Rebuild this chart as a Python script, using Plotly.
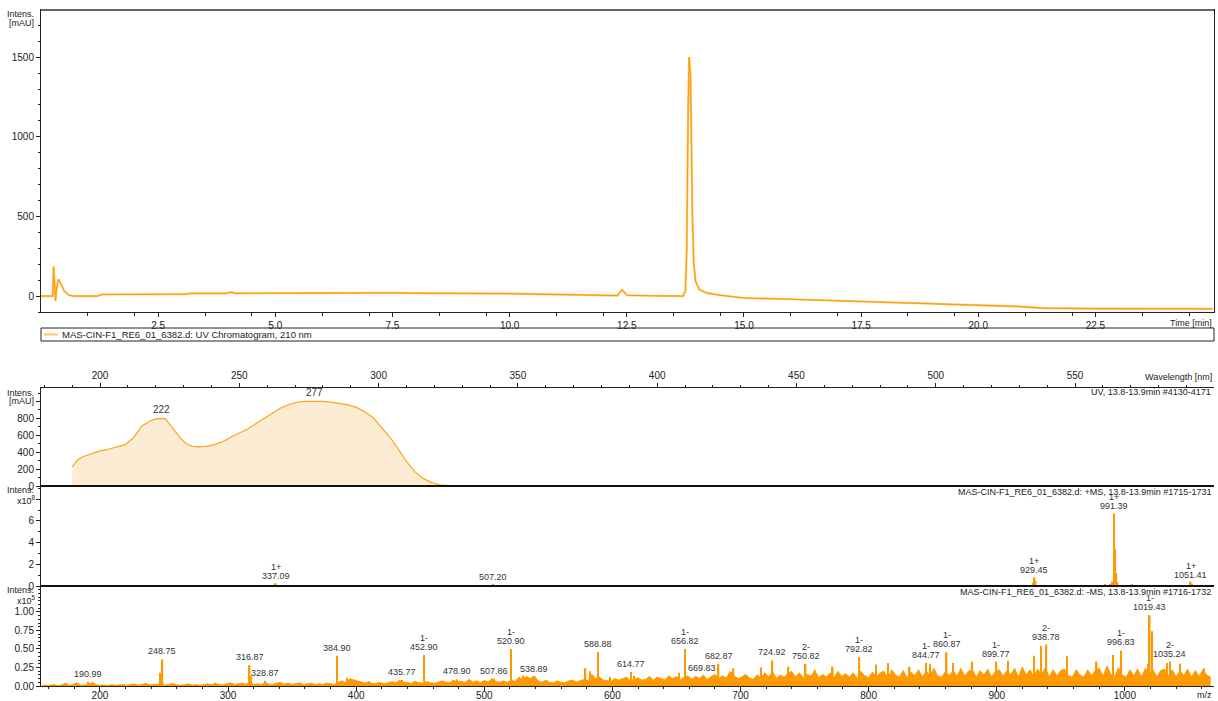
import numpy as np
import plotly.graph_objects as go

# UV chromatogram, 210 nm  (time in min, intensity in mAU)
uv_time = [0.0, 0.25, 0.27, 0.29, 0.31, 0.33, 0.37, 0.42, 0.5, 0.6, 0.7, 1.2, 1.3, 3.1, 3.2,
           3.95, 4.05, 4.15, 5.0, 5.2, 5.3, 7.5, 8.0, 10.0, 11.0, 12.0, 12.3, 12.4, 12.5,
           13.0, 13.7, 13.75, 13.78, 13.81, 13.83, 13.86, 13.88, 13.9, 13.93, 13.97, 14.05,
           14.2, 14.5, 15.0, 16.0, 17.5, 19.0, 20.0, 20.8, 21.4, 22.5, 25.0]
uv_mau = [0, 0, 185, 60, -30, 40, 105, 80, 30, 5, 0, 0, 10, 12, 17,
          17, 25, 17, 19, 22, 19, 20, 18, 15, 8, 3, 3, 40, 5,
          2, 0, 30, 300, 1200, 1500, 1380, 900, 500, 200, 90, 40,
          20, 5, -12, -20, -33, -45, -55, -65, -76, -79, -80]

# UV spectrum at 13.8-13.9 min
spec_nm = [190, 192, 194, 197, 200, 203, 206, 209, 212, 215, 218, 220, 222, 223.5, 225, 227,
           229, 231, 233, 235, 238, 241, 244, 247, 250, 253, 256, 259, 262, 265, 268, 271,
           274, 277, 280, 283, 286, 289, 292, 295, 298, 301, 304, 307, 310, 313, 316, 319,
           322, 325, 328, 600]
spec_mau = [225, 310, 350, 380, 415, 435, 460, 490, 570, 710, 770, 795, 800, 795, 730, 640,
            560, 500, 470, 462, 470, 490, 525, 580, 625, 675, 740, 800, 860, 925, 968, 992,
            1003, 1005, 1002, 993, 980, 960, 930, 880, 810, 700, 580, 440, 290, 170, 90, 40,
            15, 5, 0, 0]
spec_peak_nm = [222, 277]
spec_peak_mau = [800, 1005]

# +MS spectrum (intensity x1e8)
pos_mz = [337.09, 507.20, 928.45, 929.45, 930.45, 984.6, 988.4, 990.4, 991.39, 992.39,
          993.39, 994.4, 1005.7, 1051.41, 1052.41]
pos_int = [0.25, 0.2, 0.3, 0.8, 0.45, 0.15, 0.1, 0.4, 6.7, 3.4, 1.2, 0.35, 0.12, 0.4, 0.2]
pos_lab_mz = [337.09, 507.20, 929.45, 991.39, 1051.41]
pos_lab_int = [0.25, 0.2, 0.8, 6.7, 0.4]
pos_lab_z = ['1+', '', '1+', '1+', '1+']

# -MS spectrum (intensity x1e5): background read every 3 m/z from 155
neg_noise_start = 155
neg_noise_step = 3
neg_noise = [
    0.01, 0.005, 0.01, 0.02, 0.008, 0.012, 0.04, 0.01, 0.02, 0.045, 0.01, 0.015, 0.02, 0.05, 0.02,
    0.01, 0.015, 0.008, 0.02, 0.01, 0.012, 0.02, 0.01, 0.015, 0.03, 0.01, 0.02, 0.035, 0.015, 0.02,
    0.02, 0.03, 0.01, 0.02, 0.035, 0.015, 0.01, 0.02, 0.03, 0.012, 0.02, 0.01, 0.025, 0.03, 0.015,
    0.04, 0.02, 0.015, 0.03, 0.045, 0.02, 0.03, 0.04, 0.025, 0.045, 0.02, 0.03, 0.02, 0.05, 0.025,
    0.02, 0.04, 0.05, 0.025, 0.04, 0.02, 0.03, 0.045, 0.02, 0.03, 0.04, 0.02, 0.03, 0.02, 0.04,
    0.03, 0.02, 0.05, 0.07, 0.04, 0.1, 0.085, 0.07, 0.05, 0.04, 0.06, 0.03, 0.04, 0.05, 0.03,
    0.04, 0.06, 0.045, 0.08, 0.055, 0.04, 0.035, 0.065, 0.045, 0.04, 0.06, 0.045, 0.035, 0.05, 0.07,
    0.055, 0.045, 0.08, 0.055, 0.065, 0.045, 0.09, 0.055, 0.07, 0.045, 0.075, 0.055, 0.1, 0.065, 0.05,
    0.07, 0.05, 0.08, 0.06, 0.12, 0.09, 0.13, 0.1, 0.14, 0.07, 0.05, 0.08, 0.05, 0.045, 0.07,
    0.05, 0.045, 0.07, 0.08, 0.055, 0.07, 0.09, 0.07, 0.16, 0.1, 0.12, 0.08, 0.07, 0.065, 0.1,
    0.08, 0.1, 0.12, 0.07, 0.09, 0.11, 0.08, 0.09, 0.13, 0.08, 0.12, 0.1, 0.08, 0.14, 0.1,
    0.13, 0.08, 0.12, 0.14, 0.09, 0.13, 0.1, 0.15, 0.09, 0.13, 0.16, 0.1, 0.14, 0.11, 0.2,
    0.14, 0.1, 0.12, 0.16, 0.11, 0.09, 0.15, 0.11, 0.18, 0.12, 0.2, 0.1, 0.15, 0.12, 0.17,
    0.2, 0.12, 0.18, 0.11, 0.16, 0.13, 0.22, 0.11, 0.16, 0.12, 0.18, 0.11, 0.2, 0.13, 0.17,
    0.12, 0.18, 0.1, 0.2, 0.14, 0.11, 0.19, 0.12, 0.18, 0.2, 0.11, 0.22, 0.15, 0.12, 0.21,
    0.11, 0.19, 0.14, 0.22, 0.12, 0.2, 0.15, 0.24, 0.13, 0.12, 0.2, 0.14, 0.21, 0.13, 0.24,
    0.13, 0.2, 0.22, 0.12, 0.21, 0.15, 0.23, 0.12, 0.2, 0.22, 0.13, 0.21, 0.16, 0.24, 0.12,
    0.26, 0.15, 0.22, 0.13, 0.23, 0.16, 0.25, 0.12, 0.22, 0.14, 0.21, 0.23, 0.14, 0.12, 0.22,
    0.15, 0.12, 0.22, 0.14, 0.21, 0.24, 0.13, 0.27, 0.16, 0.12, 0.25, 0.15, 0.12, 0.22, 0.14,
    0.23, 0.12, 0.24, 0.15, 0.22, 0.12, 0.21, 0.23, 0.14, 0.22, 0.12, 0.21, 0.14, 0.23, 0.12,
    0.21, 0.13, 0.22, 0.15, 0.12,
]
neg_minor_mz = [246.9, 318.2, 393.0, 530.5, 579.0, 582.5, 598.0, 617.0, 652.0, 694.5, 716.0,
                737.5, 772.0, 806.0, 815.0, 832.0, 848.0, 866.0, 881.0, 909.0, 929.0, 934.8,
                955.0, 978.0, 990.8, 1018.2, 1021.4, 1033.0, 1043.0, 1062.0]
neg_minor_int = [0.18, 0.14, 0.11, 0.14, 0.24, 0.2, 0.12, 0.14, 0.18, 0.24, 0.25,
                 0.26, 0.26, 0.29, 0.31, 0.26, 0.3, 0.31, 0.33, 0.34, 0.41, 0.54,
                 0.4, 0.33, 0.42, 0.3, 0.74, 0.31, 0.3, 0.24]
neg_lab_mz = [190.99, 248.75, 316.87, 328.87, 384.90, 435.77, 452.90, 478.90, 507.86, 520.90,
              538.89, 588.88, 614.77, 656.82, 669.83, 682.87, 724.92, 750.82, 792.82, 844.77,
              860.87, 899.77, 938.78, 996.83, 1019.43, 1035.24]
neg_lab_int = [0.06, 0.36, 0.28, 0.07, 0.41, 0.08, 0.42, 0.09, 0.10, 0.50,
               0.12, 0.46, 0.19, 0.50, 0.13, 0.30, 0.345, 0.30, 0.39, 0.31,
               0.455, 0.33, 0.56, 0.48, 0.955, 0.33]
neg_lab_z = ['', '', '', '', '', '', '1-', '', '', '1-',
             '', '', '', '1-', '', '', '', '2-', '1-', '1-',
             '1-', '1-', '2-', '1-', '1-', '2-']

W, H = 1218, 701
FONT = 'Liberation Sans'
ORANGE = '#ff9900'
L, R = 41 / W, 1214 / W


def py(p):
    # pixel row -> paper y
    return 1 - p / H


def px_(p):
    return p / W


neg_noise_mz = neg_noise_start + neg_noise_step * np.arange(len(neg_noise))

fig = go.Figure()
fig.add_trace(go.Scatter(x=uv_time, y=uv_mau, mode='lines', xaxis='x', yaxis='y',
                         line=dict(color='#ffc46b', width=2.2), hoverinfo='skip'))
fig.add_trace(go.Scatter(x=uv_time, y=uv_mau, mode='lines', xaxis='x', yaxis='y',
                         line=dict(color='#ff9a00', width=1)))
fig.add_trace(go.Scatter(x=spec_nm, y=spec_mau, mode='lines', fill='tozeroy',
                         fillcolor='#fdecd4', line=dict(color='#ffa31a', width=1.2),
                         xaxis='x2', yaxis='y2'))
fig.add_trace(go.Bar(x=pos_mz, y=pos_int, width=1.2, marker=dict(color=ORANGE, line_width=0),
                     xaxis='x3', yaxis='y3'))
fig.add_trace(go.Scatter(x=neg_noise_mz, y=neg_noise, mode='lines', fill='tozeroy',
                         fillcolor=ORANGE, line=dict(color=ORANGE, width=0.8),
                         xaxis='x4', yaxis='y4'))
fig.add_trace(go.Bar(x=neg_minor_mz, y=neg_minor_int, width=1.2,
                     marker=dict(color=ORANGE, line_width=0), xaxis='x4', yaxis='y4'))
fig.add_trace(go.Bar(x=neg_lab_mz, y=neg_lab_int, width=1.2,
                     marker=dict(color=ORANGE, line_width=0), xaxis='x4', yaxis='y4'))

ann = []
lab_font = dict(family=FONT, size=9, color='#333')
for x, y in zip(spec_peak_nm, spec_peak_mau):
    ann.append(dict(x=x, y=y, xref='x2', yref='y2', text=str(x), showarrow=False,
                    yanchor='bottom', yshift=1, font=dict(family=FONT, size=10, color='#333')))
for x, y, z in zip(pos_lab_mz, pos_lab_int, pos_lab_z):
    ann.append(dict(x=x, y=y, xref='x3', yref='y3', text=f'{x:.2f}', showarrow=False,
                    yanchor='bottom', yshift=0, font=lab_font))
    if z:
        ann.append(dict(x=x, y=y, xref='x3', yref='y3', text=z, showarrow=False,
                        yanchor='bottom', yshift=9, font=lab_font))
for x, y, z in zip(neg_lab_mz, neg_lab_int, neg_lab_z):
    ann.append(dict(x=x, y=y, xref='x4', yref='y4', text=f'{x:.2f}', showarrow=False,
                    yanchor='bottom', yshift=1, font=lab_font))
    if z:
        ann.append(dict(x=x, y=y, xref='x4', yref='y4', text=z, showarrow=False,
                        yanchor='bottom', yshift=10, font=lab_font))

small = dict(family=FONT, size=9, color='#222')


def note(x, y, text, anchor='right', font=small):
    ann.append(dict(x=px_(x), y=py(y), xref='paper', yref='paper', text=text, showarrow=False,
                    xanchor=anchor, yanchor='middle', font=font, borderpad=0))


note(35, 14, 'Intens.')
note(35, 23, '[mAU]')
note(35, 393, 'Intens.')
note(35, 401, '[mAU]')
note(35, 490, 'Intens.')
note(37, 500, 'x10<sup>8</sup>')
note(35, 590, 'Intens.')
note(37, 600, 'x10<sup>5</sup>')
note(1213, 323, 'Time [min]')
note(1213, 377, 'Wavelength [nm]')
note(1213, 695, 'm/z')
note(1212, 392, 'UV, 13.8-13.9min #4130-4171')
note(1212, 492, 'MAS-CIN-F1_RE6_01_6382.d: +MS, 13.8-13.9min #1715-1731')
note(1212, 592, 'MAS-CIN-F1_RE6_01_6382.d: -MS, 13.8-13.9min #1716-1732')
note(61, 334.5, 'MAS-CIN-F1_RE6_01_6382.d: UV Chromatogram, 210 nm', anchor='left',
     font=dict(family=FONT, size=9.5, color='#222'))

shapes = [
    dict(type='rect', xref='paper', yref='paper', x0=L, x1=R, y0=py(341), y1=py(328),
         line=dict(color='#222', width=1)),
    dict(type='line', xref='paper', yref='paper', x0=px_(44), x1=px_(58), y0=py(334.5),
         y1=py(334.5), line=dict(color='#ffc46b', width=2)),
    dict(type='line', xref='paper', yref='paper', x0=L, x1=R, y0=py(10), y1=py(10),
         line=dict(color='#666', width=2)),
    dict(type='line', xref='paper', yref='paper', x0=L, x1=R, y0=py(486), y1=py(486),
         line=dict(color='#111', width=2)),
    dict(type='line', xref='paper', yref='paper', x0=L, x1=R, y0=py(586), y1=py(586),
         line=dict(color='#111', width=2)),
]

tick_font = dict(family=FONT, size=10, color='#222')
common = dict(showgrid=False, zeroline=False, ticks='outside', ticklen=4, tickwidth=1,
              tickcolor='#222', linecolor='#222', linewidth=1, tickfont=tick_font)

time_major = [2.5 * i for i in range(1, 10)]
time_minor = [m + d for m in [0] + time_major for d in (1, 2) if m + d < 25]

fig.update_layout(
    width=W, height=H, margin=dict(l=0, r=0, t=0, b=0, autoexpand=False),
    paper_bgcolor='white', plot_bgcolor='white', showlegend=False, barmode='overlay',
    font=dict(family=FONT),
    xaxis=dict(domain=[L, R], anchor='y', range=[0.0, 25.03], tickvals=time_major,
               ticktext=[f'{v:.1f}' for v in time_major], showline=True, mirror=True,
               minor=dict(tickvals=time_minor, ticklen=3, ticks='outside', tickcolor='#222'),
               **common),
    yaxis=dict(domain=[py(312), py(10)], anchor='x', range=[-100, 1796],
               tickvals=[0, 500, 1000, 1500], showline=True, mirror=True,
               minor=dict(dtick=100, ticklen=2, ticks='outside', tickcolor='#222'), **common),
    xaxis2=dict(domain=[L, R], anchor='y2', side='top', range=[178.8, 599.9], tick0=0,
                dtick=50, showline=True,
                minor=dict(dtick=10, ticklen=2, ticks='outside', tickcolor='#222'), **common),
    yaxis2=dict(domain=[py(486), py(388)], anchor='x2', range=[0, 1160],
                tickvals=[0, 200, 400, 600, 800, 1000],
                ticktext=['0', '200', '400', '600', '800', ''], showline=True,
                minor=dict(dtick=100, ticklen=2, ticks='outside', tickcolor='#222'), **common),
    xaxis3=dict(domain=[L, R], anchor='y3', range=[154, 1069.6], showticklabels=False,
                showgrid=False, zeroline=False, showline=False, ticks=''),
    yaxis3=dict(domain=[py(586), py(486)], anchor='x3', range=[0, 9.23],
                tickvals=[0, 2, 4, 6, 8], ticktext=['0', '2', '4', '6', ''], showline=True,
                minor=dict(dtick=1, ticklen=2, ticks='outside', tickcolor='#222'), **common),
    xaxis4=dict(domain=[L, R], anchor='y4', range=[154, 1069.6], tick0=0, dtick=100,
                showline=True, ticklabelstandoff=-4,
                minor=dict(dtick=20, ticklen=2, ticks='outside', tickcolor='#222'), **common),
    yaxis4=dict(domain=[py(686), py(586)], anchor='x4', range=[0, 1.35],
                tickvals=[0, 0.25, 0.5, 0.75, 1.0],
                ticktext=['0.00', '0.25', '0.50', '0.75', '1.00'], showline=True,
                minor=dict(dtick=0.05, ticklen=2, ticks='outside', tickcolor='#222'), **common),
    annotations=ann,
    shapes=shapes,
)
fig.update_xaxes(automargin=False)
fig.update_yaxes(automargin=False)

page_fix = ("document.documentElement.style.margin='0';"
            "document.body.style.margin='0';")
fig.write_html("out.html", config={'displayModeBar': False}, post_script=page_fix)
